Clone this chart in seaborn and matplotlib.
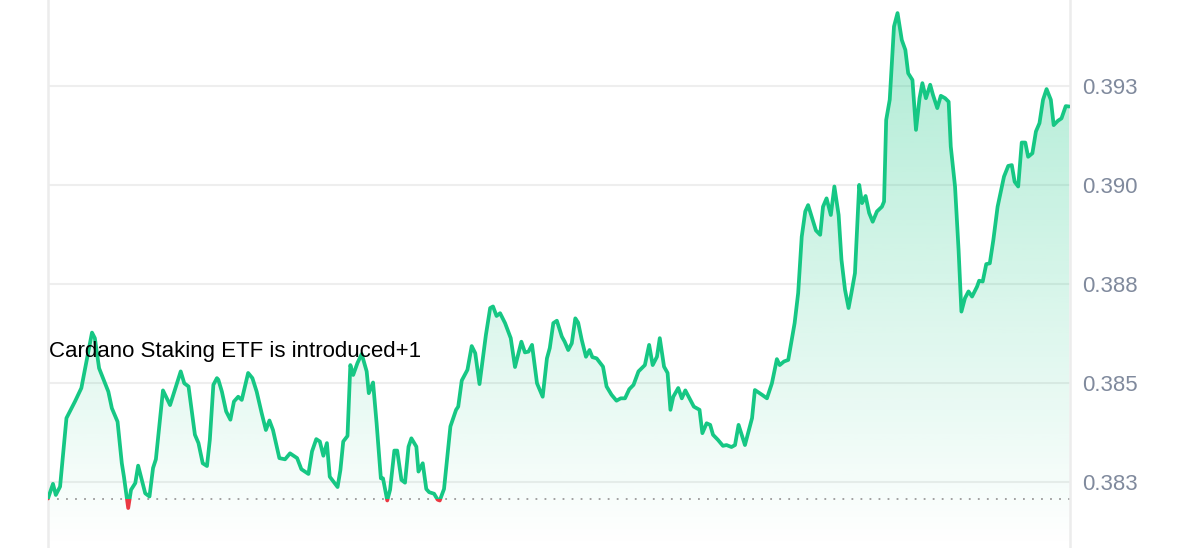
import numpy as np
import matplotlib
matplotlib.use("Agg")
import matplotlib.pyplot as plt
from matplotlib.patches import Rectangle
import seaborn as sns

# minutes since open and ADA price (USD)
minutes = [
    0, 7, 11, 17, 26, 38, 47, 62, 66, 72, 85, 90, 98, 104, 107, 113, 117, 123, 127, 137,
    143, 148, 152, 162, 172, 181, 187, 192, 198, 207, 212, 218, 224, 228, 233, 238, 240, 245, 251, 257,
    262, 268, 273, 282, 288, 294, 301, 307, 312, 317, 326, 334, 341, 351, 357, 367, 372, 378, 383, 388,
    393, 397, 408, 412, 416, 422, 426, 430, 436, 442, 449, 452, 458, 463, 469, 472, 478, 482, 488, 492,
    498, 503, 508, 512, 519, 522, 528, 533, 537, 544, 549, 552, 558, 567, 575, 578, 583, 591, 597, 602,
    608, 617, 623, 627, 632, 637, 644, 652, 658, 667, 672, 677, 682, 689, 697, 703, 707, 712, 717, 724,
    728, 733, 738, 743, 747, 752, 758, 763, 767, 773, 782, 787, 794, 801, 807, 813, 819, 825, 832, 841,
    847, 852, 858, 862, 868, 873, 877, 881, 888, 893, 898, 905, 910, 918, 922, 928, 933, 937, 944, 951,
    956, 963, 968, 973, 982, 992, 996, 1006, 1013, 1020, 1027, 1031, 1037, 1043, 1052, 1057, 1062, 1067, 1071, 1076,
    1082, 1088, 1092, 1097, 1103, 1108, 1114, 1118, 1123, 1128, 1132, 1137, 1143, 1147, 1152, 1157, 1162, 1168, 1175, 1178,
    1181, 1186, 1192, 1197, 1203, 1208, 1212, 1218, 1223, 1228, 1232, 1237, 1243, 1247, 1253, 1258, 1264, 1269, 1272, 1278,
    1283, 1287, 1292, 1297, 1302, 1309, 1312, 1317, 1322, 1327, 1332, 1338, 1342, 1347, 1353, 1358, 1362, 1367, 1372, 1377,
    1381, 1387, 1392, 1397, 1402, 1407, 1413, 1417, 1423, 1428, 1434, 1439,
]
price = [
    0.38208, 0.38245, 0.38217, 0.38238, 0.38411, 0.38453, 0.38487, 0.38627, 0.38613, 0.38537,
    0.38478, 0.38436, 0.38402, 0.38297, 0.38263, 0.38184, 0.38230, 0.38247, 0.38291, 0.38221,
    0.38213, 0.38285, 0.38307, 0.38481, 0.38444, 0.38495, 0.38529, 0.38499, 0.38491, 0.38369,
    0.38348, 0.38297, 0.38290, 0.38356, 0.38495, 0.38512, 0.38508, 0.38478, 0.38428, 0.38407,
    0.38453, 0.38465, 0.38457, 0.38525, 0.38512, 0.38478, 0.38424, 0.38381, 0.38405, 0.38381,
    0.38310, 0.38307, 0.38322, 0.38310, 0.38282, 0.38270, 0.38327, 0.38358, 0.38352, 0.38316,
    0.38348, 0.38263, 0.38237, 0.38280, 0.38352, 0.38366, 0.38545, 0.38520, 0.38550, 0.38573,
    0.38529, 0.38474, 0.38501, 0.38398, 0.38259, 0.38259, 0.38203, 0.38230, 0.38329, 0.38329,
    0.38255, 0.38248, 0.38339, 0.38360, 0.38339, 0.38276, 0.38297, 0.38232, 0.38224, 0.38220,
    0.38205, 0.38203, 0.38232, 0.38390, 0.38432, 0.38440, 0.38506, 0.38533, 0.38593, 0.38575,
    0.38497, 0.38621, 0.38689, 0.38693, 0.38669, 0.38676, 0.38651, 0.38613, 0.38540, 0.38604,
    0.38577, 0.38579, 0.38596, 0.38499, 0.38465, 0.38562, 0.38588, 0.38651, 0.38657, 0.38617,
    0.38604, 0.38583, 0.38600, 0.38663, 0.38652, 0.38609, 0.38566, 0.38583, 0.38565, 0.38562,
    0.38541, 0.38491, 0.38470, 0.38455, 0.38461, 0.38461, 0.38484, 0.38495, 0.38529, 0.38545,
    0.38596, 0.38545, 0.38566, 0.38613, 0.38541, 0.38525, 0.38432, 0.38465, 0.38487, 0.38461,
    0.38481, 0.38457, 0.38440, 0.38432, 0.38373, 0.38398, 0.38394, 0.38369, 0.38356, 0.38341,
    0.38343, 0.38338, 0.38343, 0.38394, 0.38343, 0.38411, 0.38482, 0.38470, 0.38461, 0.38499,
    0.38560, 0.38545, 0.38554, 0.38558, 0.38651, 0.38727, 0.38869, 0.38933, 0.38949, 0.38920,
    0.38885, 0.38874, 0.38945, 0.38966, 0.38924, 0.38996, 0.38924, 0.38811, 0.38735, 0.38689,
    0.38727, 0.38777, 0.39000, 0.38954, 0.38972, 0.38929, 0.38907, 0.38933, 0.38945, 0.38958,
    0.39164, 0.39215, 0.39400, 0.39434, 0.39366, 0.39341, 0.39282, 0.39265, 0.39139, 0.39219,
    0.39257, 0.39219, 0.39253, 0.39227, 0.39194, 0.39225, 0.39219, 0.39210, 0.39097, 0.38996,
    0.38836, 0.38680, 0.38714, 0.38731, 0.38718, 0.38743, 0.38758, 0.38756, 0.38800, 0.38802,
    0.38861, 0.38945, 0.38979, 0.39021, 0.39048, 0.39050, 0.39008, 0.38996, 0.39107, 0.39107,
    0.39071, 0.39080, 0.39135, 0.39156, 0.39215, 0.39242, 0.39215, 0.39151, 0.39162, 0.39168,
    0.39199, 0.39198,
]
open_price = 0.38208  # dotted reference line

y_ticks = [0.3825, 0.385, 0.3875, 0.39, 0.3925]
y_tick_labels = ["0.383", "0.385", "0.388", "0.390", "0.393"]

event_label = "Cardano Staking ETF is introduced+1"
event_price = 0.38580

GREEN = "#16c784"
RED = "#ea3943"

sns.set_theme(style="white")
plt.rcParams["font.family"] = ["Liberation Sans", "DejaVu Sans"]

fig = plt.figure(figsize=(12, 5.48), dpi=100)
ax = fig.add_axes([48 / 1200, 0, (1070 - 48) / 1200, 1])

ymin, ymax = 0.38083, 0.39467
ax.set_xlim(0, 1440)
ax.set_ylim(ymin, ymax)

# gradient fill under the line
poly = ax.fill_between(minutes, price, ymin, facecolor="none", edgecolor="none")
grad = np.zeros((256, 1, 4))
rgb = matplotlib.colors.to_rgb(GREEN)
grad[:, 0, 0], grad[:, 0, 1], grad[:, 0, 2] = rgb
grad[:, 0, 3] = np.linspace(0.36, 0.0, 256)
im = ax.imshow(grad, aspect="auto", extent=[0, 1440, ymin, ymax], origin="upper", zorder=1)
im.set_clip_path(poly.get_paths()[0], transform=ax.transData)

# price line: green above the open, red below
sns.lineplot(x=minutes, y=price, ax=ax, color=GREEN, linewidth=2.7, zorder=3)
sns.lineplot(x=minutes, y=price, ax=ax, color=RED, linewidth=2.7, zorder=3)
up, down = ax.lines[-2], ax.lines[-1]
up.set_solid_joinstyle("round")
down.set_solid_joinstyle("round")
up.set_clip_path(Rectangle((0, open_price), 1440, 1, transform=ax.transData))
down.set_clip_path(Rectangle((0, open_price - 1), 1440, 1, transform=ax.transData))

ax.axhline(open_price, color="#9a9a9a", linewidth=1.3, linestyle=(0, (1, 4)), zorder=2)

ax.set_yticks(y_ticks)
ax.set_yticklabels(y_tick_labels)
ax.yaxis.tick_right()
ax.set_xticks([])
ax.tick_params(axis="y", length=0, pad=9, labelsize=16, labelcolor="#808a9d")
ax.grid(axis="y", color="#eeeeee", linewidth=1.5, zorder=0)
ax.set_axisbelow(True)

for side in ["top", "bottom"]:
    ax.spines[side].set_visible(False)
for side in ["left", "right"]:
    ax.spines[side].set_color("#ececec")
    ax.spines[side].set_linewidth(1.8)

ax.text(2, event_price, event_label, fontsize=16, color="black", va="center", ha="left", zorder=4)

ax.set_xlabel("")
ax.set_ylabel("")
fig.savefig("out.png", dpi=100)
